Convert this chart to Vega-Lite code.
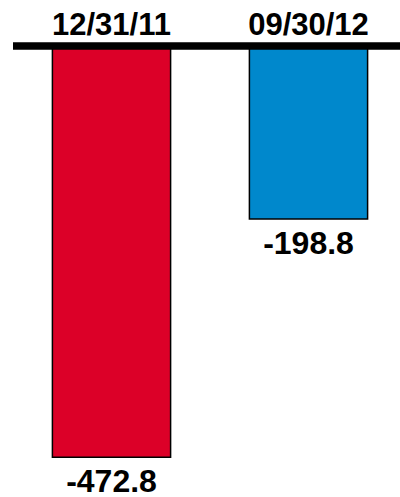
{
  "$schema": "https://vega.github.io/schema/vega-lite/v6.json",
  "autosize": {"type": "none"},
  "padding": {"top": 46, "left": 13, "right": 0, "bottom": 16},
  "width": 394,
  "height": 435,
  "background": "white",
  "config": {"view": {"stroke": null}},
  "data": {
    "values": [
      {"date": "12/31/11", "value": -472.8, "label": "-472.8"},
      {"date": "09/30/12", "value": -198.8, "label": "-198.8"}
    ]
  },
  "encoding": {
    "x": {
      "field": "date",
      "type": "nominal",
      "sort": null,
      "axis": null,
      "scale": {"paddingInner": 0.4, "paddingOuter": 0.2}
    }
  },
  "layer": [
    {
      "mark": {"type": "bar", "stroke": "black", "strokeWidth": 1.5},
      "encoding": {
        "y": {"field": "value", "type": "quantitative", "axis": null, "scale": {"domain": [-500, 0], "nice": false}},
        "color": {
          "field": "date",
          "type": "nominal",
          "legend": null,
          "scale": {"domain": ["12/31/11", "09/30/12"], "range": ["#DC0028", "#0088CC"]}
        }
      }
    },
    {
      "mark": {"type": "rule", "color": "black", "strokeWidth": 7},
      "encoding": {"y": {"datum": 0}, "x": null}
    },
    {
      "mark": {"type": "text", "font": "Liberation Sans", "fontWeight": "bold", "fontSize": 31, "baseline": "alphabetic", "dy": -11, "color": "black"},
      "encoding": {"y": {"datum": 0}, "text": {"field": "date"}}
    },
    {
      "mark": {"type": "text", "font": "Liberation Sans", "fontWeight": "bold", "fontSize": 32, "baseline": "alphabetic", "dy": 35, "color": "black"},
      "encoding": {"y": {"field": "value", "type": "quantitative"}, "text": {"field": "label"}}
    }
  ]
}
